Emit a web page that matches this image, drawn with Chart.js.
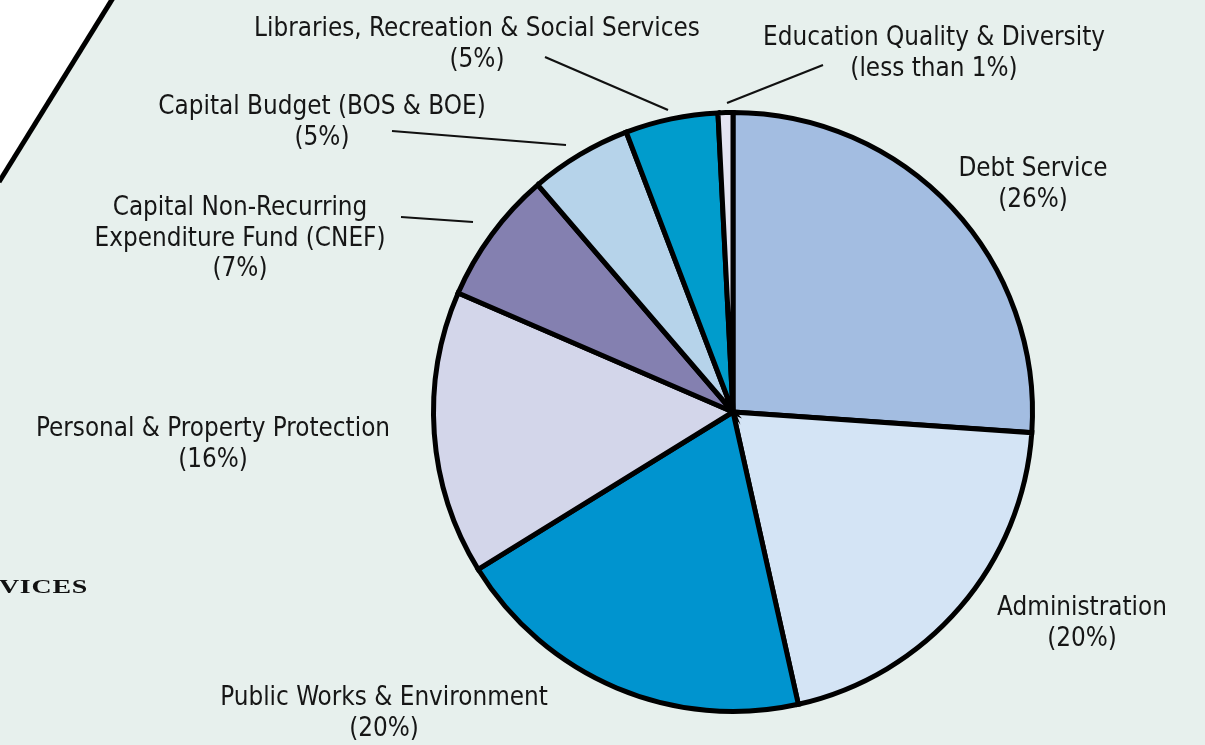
<!DOCTYPE html>
<html><head><meta charset="utf-8">
<script src="https://cdn.jsdelivr.net/npm/chart.js@4.4.0/dist/chart.umd.min.js"></script>
<style>
html,body{margin:0;padding:0;background:#e7f0ed;}
#wrap{position:relative;width:1205px;height:745px;overflow:hidden;}
canvas{display:block;}
</style></head><body>
<div id="wrap"><canvas id="c" width="1205" height="745"></canvas></div>
<script>
const categories = ["Debt Service","Administration","Public Works & Environment","Personal & Property Protection","Capital Non-Recurring Expenditure Fund (CNEF)","Capital Budget (BOS & BOE)","Libraries, Recreation & Social Services","Education Quality & Diversity"];
const values = [26.1, 20.4, 19.7, 15.3, 7.2, 5.5, 5.0, 0.8];
const percentLabels = ["(26%)","(20%)","(20%)","(16%)","(7%)","(5%)","(5%)","(less than 1%)"];
const colors = ["#a3bde1","#d4e4f5","#0094cf","#d3d6ea","#8480b0","#b6d3ea","#009ccc","#e4e4f2"];

const FONT = '25.8px "DejaVu Sans Condensed", "DejaVu Sans", sans-serif';
const labelLayout = [
  {lines:["Debt Service"], x:1033, y:176},
  {lines:["Administration"], x:1082, y:615},
  {lines:["Public Works & Environment"], x:384, y:705},
  {lines:["Personal & Property Protection"], x:213, y:436},
  {lines:["Capital Non-Recurring","Expenditure Fund (CNEF)"], x:240, y:215, leader:[401,217,473,222]},
  {lines:["Capital Budget (BOS & BOE)"], x:322, y:114, leader:[392,131,566,145]},
  {lines:["Libraries, Recreation & Social Services"], x:477, y:36, leader:[545,57,668,110]},
  {lines:["Education Quality & Diversity"], x:934, y:45, leader:[823,65,727,103]}
];

const decor = {
  id:'decor',
  beforeDraw(chart){
    const ctx = chart.ctx;
    ctx.save();
    ctx.fillStyle = '#e7f0ed';
    ctx.fillRect(0,0,chart.width,chart.height);
    ctx.fillStyle = '#ffffff';
    ctx.beginPath(); ctx.moveTo(0,0); ctx.lineTo(112,0); ctx.lineTo(0,180); ctx.closePath(); ctx.fill();
    ctx.strokeStyle = '#000'; ctx.lineWidth = 5;
    ctx.beginPath(); ctx.moveTo(113,-2); ctx.lineTo(-1,182); ctx.stroke();
    ctx.fillStyle = '#111';
    ctx.font = 'bold 18px "Liberation Serif", serif';
    ctx.textAlign = 'left'; ctx.textBaseline = 'alphabetic';
    ctx.translate(-21, 593);
    ctx.scale(1.55, 1);
    if (ctx.letterSpacing !== undefined) ctx.letterSpacing = '0.5px';
    ctx.fillText('RVICES', 0, 0);
    ctx.restore();
  },
  afterDraw(chart){
    const ctx = chart.ctx;
    ctx.save();
    ctx.font = FONT;
    ctx.fillStyle = '#161616';
    ctx.textAlign = 'center';
    ctx.textBaseline = 'alphabetic';
    labelLayout.forEach((L,i)=>{
      const lines = L.lines.concat([percentLabels[i]]);
      lines.forEach((t,j)=>ctx.fillText(t, L.x, L.y + j*30.5));
      if (L.leader){
        ctx.strokeStyle = '#111'; ctx.lineWidth = 2.2;
        ctx.beginPath(); ctx.moveTo(L.leader[0],L.leader[1]); ctx.lineTo(L.leader[2],L.leader[3]); ctx.stroke();
      }
    });
    ctx.restore();
  }
};

new Chart(document.getElementById('c'), {
  type:'pie',
  data:{labels:categories, datasets:[{data:values, backgroundColor:colors, borderColor:'#000', borderWidth:5, borderJoinStyle:'miter'}]},
  options:{
    responsive:false, animation:false,
    layout:{padding:{left:431,right:170,top:110,bottom:31}},
    plugins:{legend:{display:false}, tooltip:{enabled:false}}
  },
  plugins:[decor]
});
</script>
</body></html>
